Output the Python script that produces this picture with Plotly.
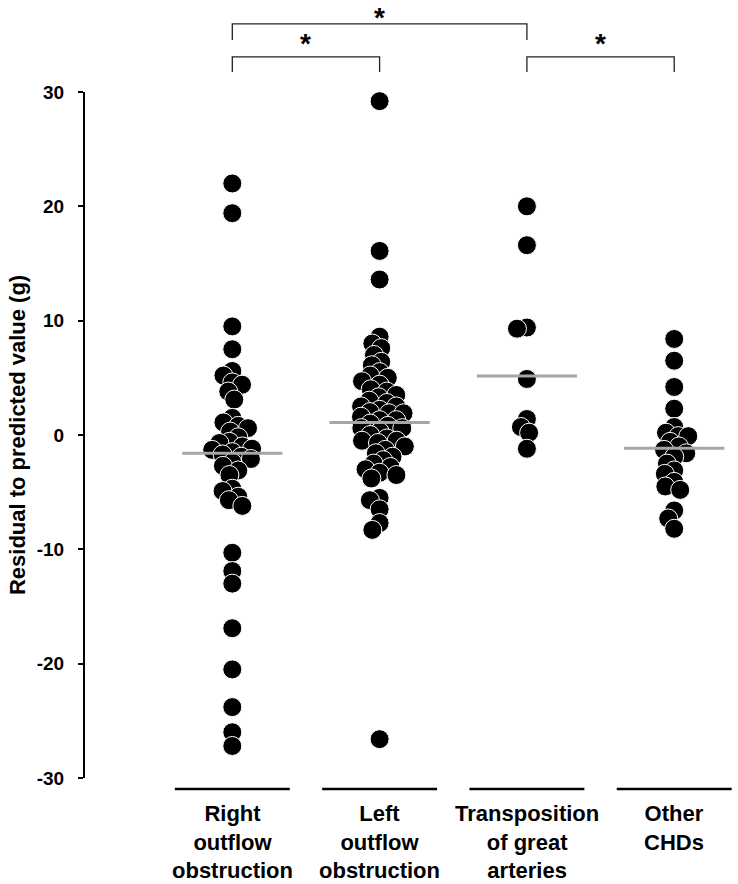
import numpy as np
import plotly.graph_objects as go

# ---------------- data ----------------
categories = ["Right<br>outflow<br>obstruction", "Left<br>outflow<br>obstruction",
              "Transposition<br>of great<br>arteries", "Other<br>CHDs"]

right_outflow = [22.0, 19.4, 9.5, 7.5, 5.6, 5.2, 4.6, 4.4, 3.8, 3.1, 1.5, 1.1, 0.8, 0.6, 0.3,
                 -0.2, -0.6, -0.7, -1.0, -1.2, -1.3, -1.5, -1.7, -1.9, -2.1, -2.4, -2.7, -3.1,
                 -3.5, -4.7, -4.9, -5.4, -5.7, -6.2, -10.3, -11.9, -13.0, -16.9, -20.5, -23.8,
                 -26.0, -27.2]
left_outflow = [29.2, 16.1, 13.6, 8.6, 8.0, 7.6, 7.0, 6.4, 6.1, 5.5, 5.2, 5.0, 4.7, 4.4, 4.0,
                3.8, 3.5, 3.3, 3.0, 2.8, 2.5, 2.5, 2.2, 2.0, 1.9, 1.9, 1.6, 1.3, 1.3, 1.0, 0.8,
                0.6, 0.6, 0.3, 0.0, -0.3, -0.5, -0.5, -0.7, -1.0, -1.3, -1.6, -1.9, -2.2, -2.5,
                -2.8, -3.0, -3.3, -3.5, -3.8, -5.5, -5.7, -6.5, -7.7, -8.3, -26.6]
transposition = [20.0, 16.6, 9.4, 9.3, 4.9, 1.4, 0.7, 0.2, -1.2]
other_chd = [8.4, 6.5, 4.2, 2.3, 0.7, 0.2, -0.1, -0.1, -0.6, -1.0, -1.3, -1.6, -1.9, -2.5,
             -3.1, -3.4, -4.1, -4.5, -4.8, -6.6, -7.3, -8.2]
groups = [right_outflow, left_outflow, transposition, other_chd]
medians = [-1.6, 1.1, 5.15, -1.15]

y_ticks = [-30, -20, -10, 0, 10, 20, 30]
y_ticktext = ["-30", "-20", "-10", "0", "10", "20", "30"]
y_title = "Residual to predicted value (g)"
# significance brackets: (group a, group b, level)
brackets = [(0, 2, 1), (0, 1, 0), (2, 3, 0)]

# ---------------- layout constants ----------------
W, H = 738, 884
ML, MR, MT, MB = 85, 0, 92, 106
XR = (0.0, 4.433)
YR = (-30.0, 30.0)
plot_w = W - ML - MR
plot_h = H - MT - MB
px_x = plot_w / (XR[1] - XR[0])
px_y = plot_h / (YR[1] - YR[0])
centers = [1, 2, 3, 4]

FONT = "Liberation Sans, Arial, sans-serif"


def beeswarm(vals, d=10.0):
    order = np.argsort(-np.asarray(vals), kind="stable")
    placed = []
    offs = np.zeros(len(vals))
    for i in order:
        yp = vals[i] * px_y
        forb = []
        for (xo, yo) in placed:
            dy = abs(yp - yo)
            if dy < d:
                w = np.sqrt(d * d - dy * dy)
                forb.append((xo - w, xo + w))
        cands = [0.0] + [a for a, b in forb] + [b for a, b in forb]
        cands.sort(key=lambda c: (abs(c), c))
        for c in cands:
            if all(not (a + 1e-6 < c < b - 1e-6) for a, b in forb):
                offs[i] = c
                break
        placed.append((offs[i], yp))
    return offs / px_x


fig = go.Figure()

for c, vals in zip(centers, groups):
    offs = beeswarm(vals)
    fig.add_trace(go.Scatter(
        x=c + offs, y=vals, mode="markers", cliponaxis=False,
        marker=dict(size=19, color="black", line=dict(color="white", width=1)),
        showlegend=False, hoverinfo="y"))

for c, m in zip(centers, medians):
    fig.add_trace(go.Scatter(
        x=[c - 0.34, c + 0.34], y=[m, m], mode="lines",
        line=dict(color="#a6a6a6", width=3), showlegend=False, hoverinfo="skip"))


def to_px(x):
    return (x - XR[0]) / (XR[1] - XR[0])


def to_py(y):
    return (y - YR[0]) / (YR[1] - YR[0])


shapes = []
# separator lines under each group
sep_y = to_py(-30.97)
for c in centers:
    shapes.append(dict(type="line", xref="paper", yref="paper",
                       x0=to_px(c - 0.39), x1=to_px(c + 0.39), y0=sep_y, y1=sep_y,
                       line=dict(color="black", width=2.5)))

annotations = []
top_edge = YR[1] + MT / px_y  # data value at the very top of the figure
# (bar y, leg end y, star y, star anchor)
bar_levels = [(33.07, 31.76, 34.2, "middle"), (35.95, 34.55, top_edge, "top")]
for a, b, lev in brackets:
    yb, yl, ys, anc = bar_levels[lev]
    xa, xb = to_px(centers[a]), to_px(centers[b])
    shapes.append(dict(type="path", xref="paper", yref="paper",
                       path=f"M {xa},{to_py(yl)} L {xa},{to_py(yb)} L {xb},{to_py(yb)} L {xb},{to_py(yl)}",
                       line=dict(color="#222222", width=1.3)))
    annotations.append(dict(x=to_px((centers[a] + centers[b]) / 2), y=to_py(ys),
                            xref="paper", yref="paper",
                            text="*", showarrow=False, xanchor="center", yanchor=anc,
                            font=dict(family=FONT, size=28, color="black", weight="bold")))

for c, lab in zip(centers, categories):
    annotations.append(dict(x=to_px(c), y=to_py(-31.85), xref="paper", yref="paper",
                            text=lab, showarrow=False,
                            xanchor="center", yanchor="top", align="center",
                            font=dict(family=FONT, size=22, color="black", weight="bold")))

annotations.append(dict(x=-0.104, y=0.5, xref="paper", yref="paper", text=y_title,
                        textangle=-90, showarrow=False, xanchor="center", yanchor="middle",
                        font=dict(family=FONT, size=22, color="black", weight="bold")))

fig.update_layout(
    width=W, height=H, margin=dict(l=ML, r=MR, t=MT, b=MB),
    paper_bgcolor="white", plot_bgcolor="white",
    shapes=shapes, annotations=annotations,
    xaxis=dict(range=list(XR), visible=False, showgrid=False, zeroline=False),
    yaxis=dict(range=list(YR), tickvals=y_ticks, ticktext=y_ticktext, ticks="outside",
               ticklen=5, tickwidth=2,
               tickcolor="black", showline=True, linewidth=2, linecolor="black",
               showgrid=False, zeroline=False, ticklabelstandoff=10,
               tickfont=dict(family=FONT, size=19, color="black", weight="bold")),
)

fig.write_html("out.html", config={"displayModeBar": False},
               post_script="document.body.style.margin='0';document.body.style.overflow='hidden';")
